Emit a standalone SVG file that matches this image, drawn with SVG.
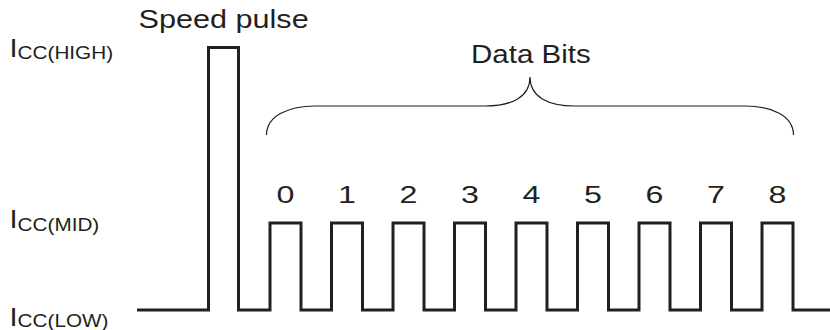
<svg xmlns="http://www.w3.org/2000/svg" width="830" height="330" viewBox="0 0 830 330">
  <style>
    .lbl { font-family: "Liberation Sans", Arial, sans-serif; fill: #231f20; }
    .big { font-size: 26px; }
    .sub { font-size: 18.5px; }
    .title { font-size: 25px; }
    .digit { font-size: 23px; text-anchor: middle; }
    .wave { fill: none; stroke: #231f20; stroke-width: 3; stroke-linejoin: miter; }
    .brace { fill: none; stroke: #231f20; stroke-width: 1.2; }
  </style>
  <rect width="830" height="330" fill="#ffffff"/>

  <!-- current level labels: I with subscript -->
  <g id="level-high">
    <text class="lbl" transform="translate(9.5,57) scale(1.12,1)"><tspan class="big">I</tspan><tspan class="sub" dy="1.5">CC(HIGH)</tspan></text>
  </g>
  <g id="level-mid">
    <text class="lbl" transform="translate(9.5,228) scale(1.12,1)"><tspan class="big">I</tspan><tspan class="sub" dy="2.5">CC(MID)</tspan></text>
  </g>
  <g id="level-low">
    <text class="lbl" transform="translate(9.5,325.5) scale(1.12,1)"><tspan class="big">I</tspan><tspan class="sub" dy="1.2">CC(LOW)</tspan></text>
  </g>

  <g id="speed-pulse-label">
    <text class="lbl title" transform="translate(138.5,28) scale(1.225,1)">Speed pulse</text>
  </g>

  <g id="data-bits-label">
    <text class="lbl big" transform="translate(471,63) scale(1.136,1)">Data Bits</text>
  </g>

  <!-- bit numbers over each data pulse -->
  <g id="bit-numbers">
    <text class="lbl digit" transform="translate(285.5,203) scale(1.4,1)">0</text>
    <text class="lbl digit" transform="translate(347,203) scale(1.4,1)">1</text>
    <text class="lbl digit" transform="translate(408.5,203) scale(1.4,1)">2</text>
    <text class="lbl digit" transform="translate(470,203) scale(1.4,1)">3</text>
    <text class="lbl digit" transform="translate(531.5,203) scale(1.4,1)">4</text>
    <text class="lbl digit" transform="translate(593,203) scale(1.4,1)">5</text>
    <text class="lbl digit" transform="translate(654.5,203) scale(1.4,1)">6</text>
    <text class="lbl digit" transform="translate(716,203) scale(1.4,1)">7</text>
    <text class="lbl digit" transform="translate(777.5,203) scale(1.4,1)">8</text>
  </g>

  <!-- brace spanning the data bits -->
  <g id="brace">
    <path class="brace" d="M266.5,135 C266.5,115 290,106 315,106 H485 C512,106 530,97 530,77 C530,97 548,106 575,106 H745 C770,106 793.5,115 793.5,135"/>
  </g>

  <!-- supply current waveform -->
  <g id="connectors">
    <path class="wave" d="M137,310 H208.5 V47.5 H238.5 V310
      H270 V223 H301 V310
      H331.5 V223 H362.5 V310
      H393 V223 H424 V310
      H454.5 V223 H485.5 V310
      H516 V223 H547 V310
      H577.5 V223 H608.5 V310
      H639 V223 H670 V310
      H700.5 V223 H731.5 V310
      H762 V223 H793 V310
      H830"/>
  </g>
</svg>
